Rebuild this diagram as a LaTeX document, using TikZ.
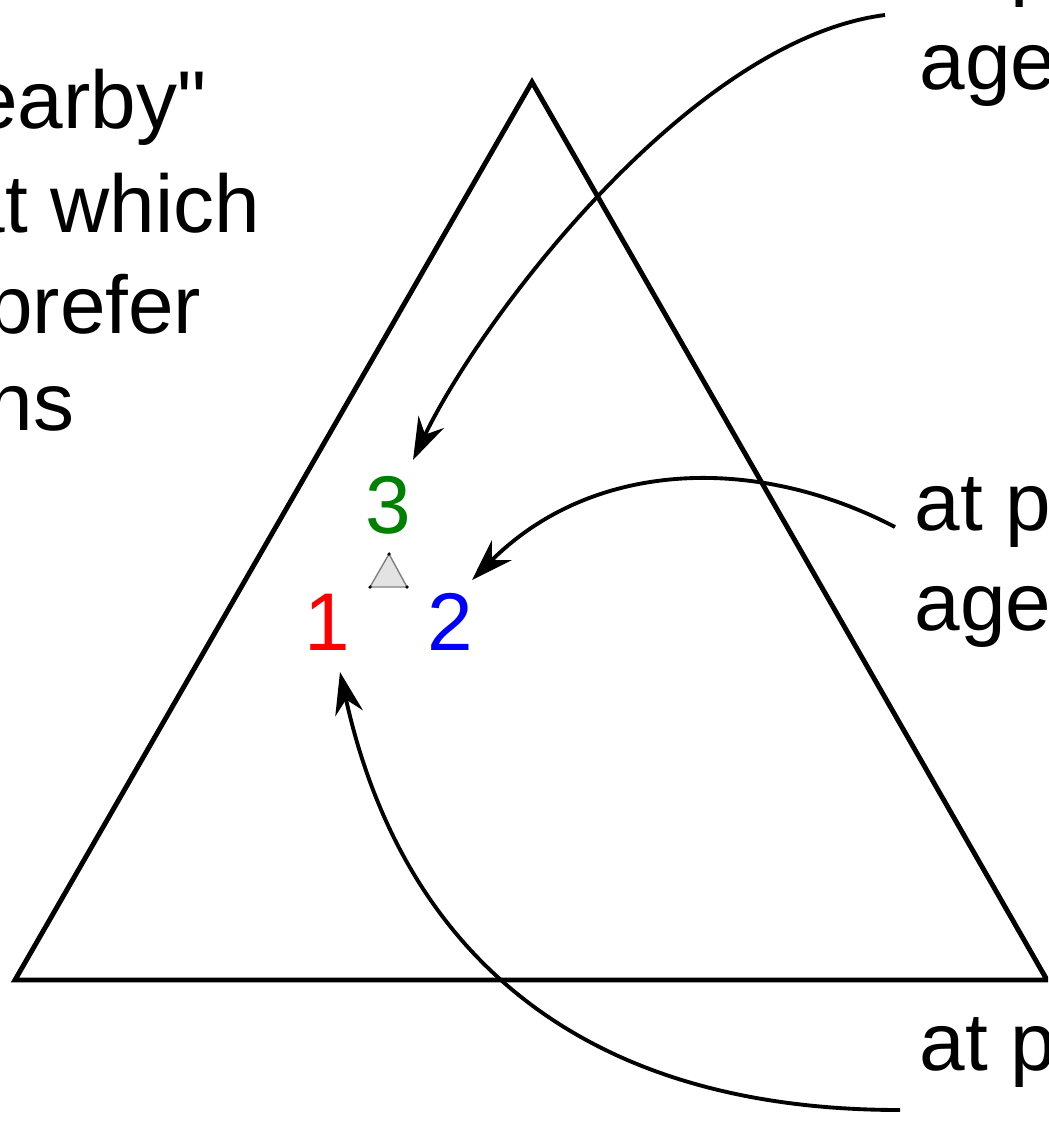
\documentclass[tikz,border=0pt]{standalone}
\usepackage{fontspec}
\setmainfont{Liberation Sans}
\newfontfamily\labelfont{Liberation Sans}
\usetikzlibrary{arrows.meta}
\definecolor{ptred}{RGB}{255,0,0}
\definecolor{ptblue}{RGB}{0,0,255}
\definecolor{ptgreen}{RGB}{0,128,0}
\tikzset{
  txt/.style={inner sep=0pt,font=\labelfont\fontsize{23.3}{28}\selectfont},
  num/.style={txt,anchor=base},
  pointer/.style={->,line width=1.1pt},
}
\begin{document}
\begin{tikzpicture}[x=0.01cm,y=-0.01cm,>={Stealth[length=12pt,width=8pt,inset=4pt]}]
  \useasboundingbox (0,0) rectangle (1048,1121);
  \clip (0,0) rectangle (1048,1121);
  % simplex
  \coordinate (A) at (15,980);
  \coordinate (B) at (532,82);
  \coordinate (C) at (1047,980);
  \draw[line width=1.4pt] (A) -- (B) -- (C) -- cycle;
  % small triangle
  \coordinate (s1) at (370,587);
  \coordinate (s2) at (389,554);
  \coordinate (s3) at (407,587);
  \draw[gray,fill=gray!22,line width=0.4pt] (s1) -- (s2) -- (s3) -- cycle;
  \foreach \p in {s1,s2,s3} \fill (\p) circle (0.5pt);
  % vertices of the small triangle
  \node[num,ptred] (n1) at (327,650) {1};
  \node[num,ptblue] (n2) at (450,650) {2};
  \node[num,ptgreen] (n3) at (388,533) {3};
  % text on the left
  \node[txt,anchor=base east] (l1) at (207,128) {"nearby"};
  \node[txt,anchor=base east] (l2) at (261,232) {at which};
  \node[txt,anchor=base east] (l3) at (202,333) {prefer};
  \node[txt,anchor=base east] (l4) at (75,430) {ns};
  % labels on the right
  \node[txt,anchor=base west] (p3a) at (919,-10) {at p};
  \node[txt,anchor=base west] (p3b) at (919,90) {age};
  \node[txt,anchor=base west] (p2a) at (914,530) {at p};
  \node[txt,anchor=base west] (p2b) at (914,630) {age};
  \node[txt,anchor=base west] (p1a) at (919,1070) {at p};
  % pointers
  \draw[pointer] ([shift={(-34,25)}]p3a.base west) .. controls (690,40) and (480,320) .. ([shift={(25,-73)}]n3.base);
  \draw[pointer] ([shift={(-19,-3)}]p2a.base west) .. controls (755,454) and (592,460) .. ([shift={(22,-70)}]n2.base);
  \draw[pointer] ([shift={(-19,40)}]p1a.base west) .. controls (550,1110) and (395,922) .. ([shift={(13,22)}]n1.base);
\end{tikzpicture}
\end{document}
